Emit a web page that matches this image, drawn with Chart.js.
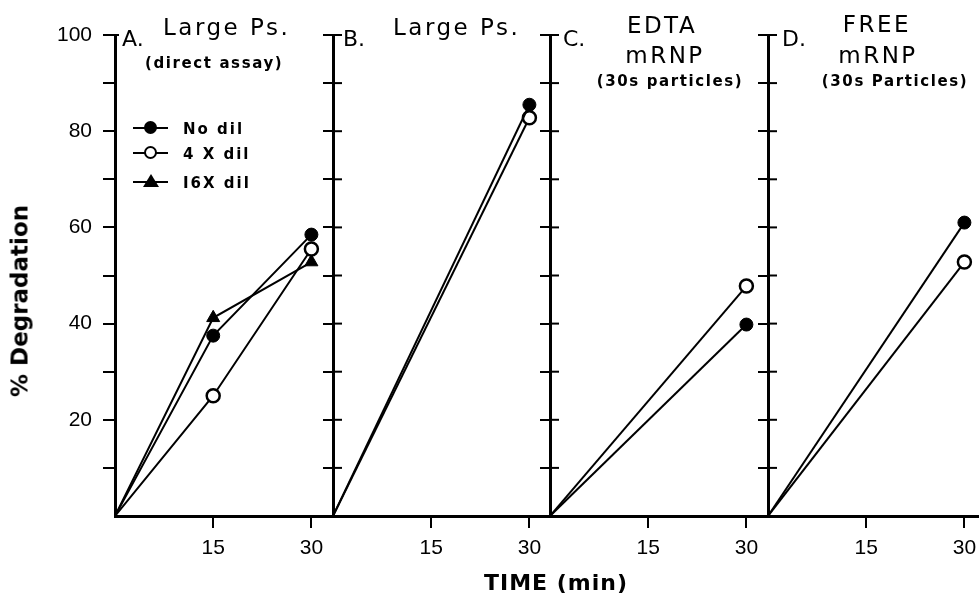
<!DOCTYPE html>
<html lang="en">
<head>
<meta charset="UTF-8">
<title>% Degradation vs time</title>
<script src="https://cdn.jsdelivr.net/npm/chart.js"></script>
<style>
  body { margin:0; width:979px; height:595px; overflow:hidden; background:#fff; position:relative; font-family:"DejaVu Sans", sans-serif; color:#000; }
  canvas { position:absolute; top:0; }
  .t { position:absolute; white-space:nowrap; line-height:1; }
  .big { font-size:23px; letter-spacing:2.5px; }
  .lbl { font-size:22px; }
  .sub { font-size:15px; font-weight:bold; letter-spacing:1.6px; }
  .ctr { transform:translateX(-50%); }
  .leg { position:absolute; left:133px; width:130px; height:16px; }
  .leg .ln { position:absolute; left:0; top:7px; width:35px; height:2px; background:#000; }
  .leg .dot { position:absolute; left:11px; top:1px; width:13px; height:13px; border-radius:50%; background:#000; }
  .leg .ring { position:absolute; left:11px; top:1px; width:13px; height:13px; border-radius:50%; background:#fff; border:2.5px solid #000; box-sizing:border-box; }
  .leg .tri { position:absolute; left:10px; top:0; width:0; height:0; border-left:8px solid transparent; border-right:8px solid transparent; border-bottom:13px solid #000; }
  .leg .lt { position:absolute; left:50px; top:0; font-size:15px; font-weight:bold; letter-spacing:2px; }
</style>
</head>
<body>
  <canvas id="chartA" width="333" height="595" style="left:0"></canvas>
  <canvas id="chartB" width="238" height="595" style="left:313px"></canvas>
  <canvas id="chartC" width="238" height="595" style="left:530px"></canvas>
  <canvas id="chartD" width="238" height="595" style="left:748px"></canvas>

  <div class="t lbl" style="left:122px;top:28px">A.</div>
  <div class="t big" style="left:163px;top:16px">Large Ps.</div>
  <div class="t sub" style="left:145px;top:56px">(direct assay)</div>

  <div class="t lbl" style="left:343px;top:28px">B.</div>
  <div class="t big" style="left:393px;top:16px">Large Ps.</div>

  <div class="t lbl" style="left:563px;top:28px">C.</div>
  <div class="t big ctr" style="left:662px;top:14px">EDTA</div>
  <div class="t big ctr" style="left:665px;top:44px">mRNP</div>
  <div class="t sub ctr" style="left:670px;top:74px">(30s particles)</div>

  <div class="t lbl" style="left:782px;top:28px">D.</div>
  <div class="t big ctr" style="left:877px;top:13px">FREE</div>
  <div class="t big ctr" style="left:878px;top:44px">mRNP</div>
  <div class="t sub ctr" style="left:895px;top:74px">(30s Particles)</div>

  <div class="leg" style="top:120px"><span class="ln"></span><span class="dot"></span><span class="lt">No dil</span></div>
  <div class="leg" style="top:145px"><span class="ln"></span><span class="ring"></span><span class="lt">4 X dil</span></div>
  <div class="leg" style="top:174px"><span class="ln"></span><span class="tri"></span><span class="lt">I6X dil</span></div>

  <div class="t" style="left:20px;top:301px;font-size:23px;font-weight:bold;transform:translate(-50%,-50%) rotate(-90deg)">% Degradation</div>
  <div class="t ctr" style="left:556px;top:572px;font-size:22px;font-weight:bold;letter-spacing:1px">TIME (min)</div>

<script>
// time points (min) and % degradation
const timesA = [0, 15, 30];
const timesBCD = [0, 30];
const aNoDil = [0, 37.5, 58.5];
const a4xDil = [0, 25, 55.5];
const a16xDil = [0, 41.2, 52.8];
const bNoDil = [0, 85.5];
const b4xDil = [0, 82.8];
const cNoDil = [0, 39.8];
const c4xDil = [0, 47.8];
const dNoDil = [0, 61];
const d4xDil = [0, 52.8];

const yLabels = [20, 40, 60, 80, 100];
const xTicks = [15, 30];
const minorTicks = [10, 20, 30, 40, 50, 60, 70, 80, 90, 100];

const pts = (xs, ys) => xs.map((x, i) => ({x: x, y: ys[i]}));

function series(xs, ys, kind) {
  return {
    data: pts(xs, ys),
    showLine: true,
    borderColor: '#000',
    borderWidth: 2,
    pointStyle: kind == 'tri' ? 'triangle' : 'circle',
    pointRadius: c => c.raw && c.raw.x === 0 ? 0 : (kind == 'tri' ? 7.5 : 6.5),
    pointBackgroundColor: kind == 'open' ? '#fff' : '#000',
    pointBorderColor: '#000',
    pointBorderWidth: kind == 'open' ? 2.5 : 1
  };
}

// short ticks drawn on the inner side of each panel's y axis
const innerTicks = {
  id: 'innerTicks',
  afterDraw(chart, args, opts) {
    const {ctx, chartArea, scales} = chart;
    ctx.save();
    ctx.strokeStyle = '#000';
    ctx.lineWidth = 2;
    opts.values.forEach(v => {
      const py = scales.y.getPixelForValue(v);
      ctx.beginPath();
      ctx.moveTo(chartArea.left, py);
      ctx.lineTo(chartArea.left + opts.length, py);
      ctx.stroke();
    });
    ctx.restore();
  }
};

function makeChart(id, datasets, first) {
  new Chart(document.getElementById(id), {
    type: 'scatter',
    data: {datasets},
    plugins: [innerTicks],
    options: {
      responsive: false,
      animation: false,
      layout: {autoPadding: false, padding: {top: 35, left: 0, right: 0, bottom: 0}},
      plugins: {
        legend: {display: false},
        tooltip: {enabled: false},
        innerTicks: {values: first ? [100] : minorTicks, length: first ? 4 : 9}
      },
      scales: {
        x: {
          type: 'linear', min: 0, max: 33.3,
          afterBuildTicks: s => { s.ticks = xTicks.map(v => ({value: v})); },
          ticks: {font: {family: 'Liberation Sans', size: 21}, color: '#000', padding: 8},
          grid: {drawOnChartArea: false, tickLength: 12, lineWidth: 2, color: '#000'},
          border: {color: '#000', width: 3},
          afterFit: s => { s.height = 79; s.paddingLeft = 0; s.paddingRight = 0; }
        },
        y: {
          min: 0, max: 100,
          afterBuildTicks: s => { s.ticks = minorTicks.map(v => ({value: v})); },
          ticks: {
            display: first,
            callback: v => yLabels.includes(v) ? v : '',
            font: {family: 'Liberation Sans', size: 21}, color: '#000', padding: 11
          },
          grid: {drawOnChartArea: false, tickLength: first ? 12 : 10, lineWidth: 2, color: '#000'},
          border: {color: '#000', width: 3},
          afterFit: s => { s.width = first ? 115 : 20; }
        }
      }
    }
  });
}

makeChart('chartA', [
  series(timesA, aNoDil, 'dot'),
  series(timesA, a4xDil, 'open'),
  series(timesA, a16xDil, 'tri')
], true);
makeChart('chartB', [series(timesBCD, bNoDil, 'dot'), series(timesBCD, b4xDil, 'open')], false);
makeChart('chartC', [series(timesBCD, cNoDil, 'dot'), series(timesBCD, c4xDil, 'open')], false);
makeChart('chartD', [series(timesBCD, dNoDil, 'dot'), series(timesBCD, d4xDil, 'open')], false);
</script>
</body>
</html>
